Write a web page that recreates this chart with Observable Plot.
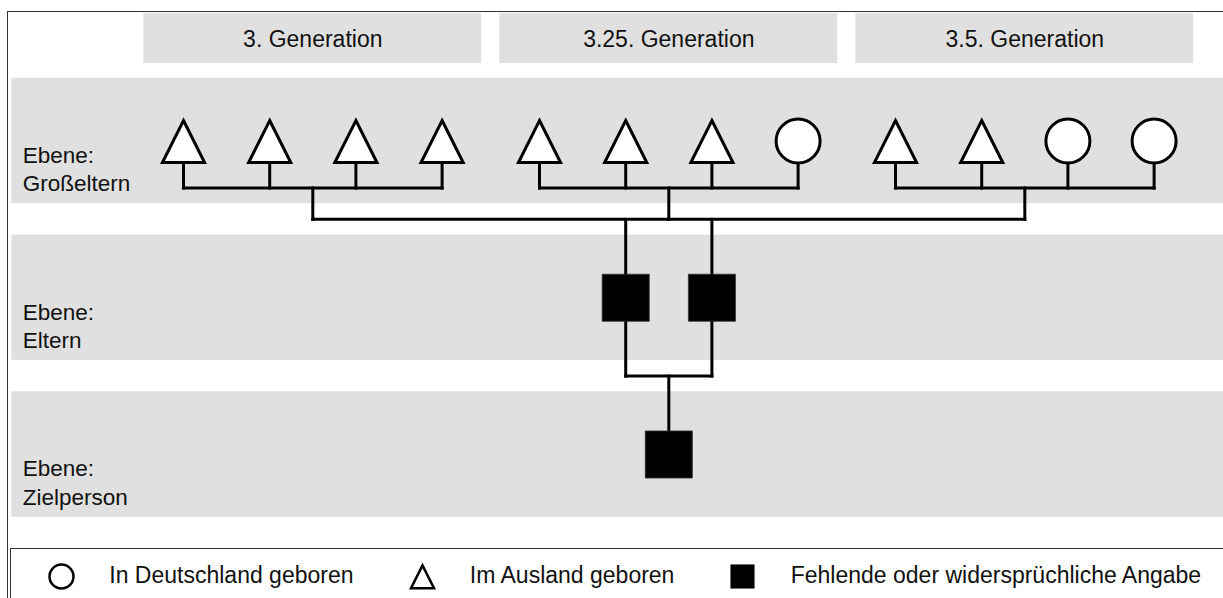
<!DOCTYPE html>
<html>
<head>
<meta charset="utf-8">
<script src="https://cdn.jsdelivr.net/npm/d3@7"></script>
<script src="https://cdn.jsdelivr.net/npm/@observablehq/plot@0.6"></script>
<style>
  html, body { margin: 0; padding: 0; background: #fff; }
  #fig { position: relative; width: 1223px; height: 598px; overflow: hidden; background: #fff;
         font-family: "Liberation Sans", Arial, Helvetica, sans-serif; color: #111; }
  #chart { position: absolute; left: 0; top: 0; }
  #frame { position: absolute; left: 6.5px; top: 10.5px; right: -20px; bottom: -20px;
           border-left: 1.5px solid #333; border-top: 1.5px solid #333; pointer-events: none; }
  #legend { position: absolute; left: 10px; top: 547.5px; width: 1400px; height: 54px;
            border-left: 1.5px solid #333; border-top: 1.5px solid #333; background: #fff;
            display: flex; align-items: center; padding-left: 37px; }
  .item { display: flex; align-items: center; margin-right: 55px; flex-shrink: 0; }
  .item:last-child { margin-right: 0; }
  .item svg { overflow: visible; display: block; flex-shrink: 0; }
  .item span { margin-left: 35.3px; font-size: 23px; white-space: nowrap; }
</style>
</head>
<body>
<div id="fig">
  <div id="chart"></div>
  <div id="frame"></div>
  <div id="legend"></div>
</div>
<script>
// ---------------- data ----------------
const generations = ["3. Generation", "3.25. Generation", "3.5. Generation"];
// birth country of the four grandparents in each generation status
const grandparentsBirth = [
  ["Ausland", "Ausland", "Ausland", "Ausland"],
  ["Ausland", "Ausland", "Ausland", "Deutschland"],
  ["Ausland", "Ausland", "Deutschland", "Deutschland"]
];
const parentsBirth = ["Fehlend", "Fehlend"];
const targetBirth = ["Fehlend"];
const levels = ["Großeltern", "Eltern", "Zielperson"];
const levelPrefix = "Ebene:";
const birthTypes = ["Deutschland", "Ausland", "Fehlend"];
const legendLabels = ["In Deutschland geboren", "Im Ausland geboren", "Fehlende oder widersprüchliche Angabe"];

// ---------------- layout (slot units / row units) ----------------
const W = 1223, H = 548;
const GAP = 0.13;                       // extra space between generation groups
const slot = (g, i) => g * (4 + GAP) + i;
const groupCenter = g => slot(g, 1.5);
const XMIN = -2.123, XMAX = 12.065;     // slot-unit extent of the drawing
const YMIN = -0.8963, YMAX = 2.5997;    // row-unit extent of the drawing
const BAND_LEFT = -1.992;
const HEADER_TOP = -0.813, HEADER_BOTTOM = -0.494;
const GRAY = "#e0e0e0";
const MID = 1;                          // parents sit below the middle group

// custom symbols (size = pi r^2)
const circleSym = { draw(ctx, size) { const r = Math.sqrt(size / Math.PI); ctx.moveTo(r, 0); ctx.arc(0, 0, r, 0, 2 * Math.PI); ctx.closePath(); } };
const triSym = { draw(ctx, size) { const r = Math.sqrt(size / Math.PI);
  ctx.moveTo(0, -0.93 * r); ctx.lineTo(0.958 * r, 0.977 * r); ctx.lineTo(-0.958 * r, 0.977 * r); ctx.closePath(); } };
const squareSym = { draw(ctx, size) { const r = Math.sqrt(size / Math.PI); const h = 1.07 * r;
  ctx.moveTo(-h, -h); ctx.lineTo(h, -h); ctx.lineTo(h, h); ctx.lineTo(-h, h); ctx.closePath(); } };
const symbolScale = { domain: birthTypes, range: [circleSym, triSym, squareSym] };

// nodes
const nodes = [];
grandparentsBirth.forEach((grp, g) => grp.forEach((t, i) => nodes.push({ x: slot(g, i), y: 0, type: t })));
parentsBirth.forEach((t, k) => nodes.push({ x: groupCenter(MID) + (k - 0.5), y: 1, type: t }));
targetBirth.forEach(t => nodes.push({ x: groupCenter(MID), y: 2, type: t }));

// connector lines derived from the structure
const links = [];
grandparentsBirth.forEach((grp, g) => {
  grp.forEach((t, i) => links.push({ x1: slot(g, i), y1: 0, x2: slot(g, i), y2: 0.3 }));
  links.push({ x1: slot(g, 0), y1: 0.3, x2: slot(g, grp.length - 1), y2: 0.3 });
  links.push({ x1: groupCenter(g), y1: 0.3, x2: groupCenter(g), y2: 0.5 });
});
links.push({ x1: groupCenter(0), y1: 0.5, x2: groupCenter(grandparentsBirth.length - 1), y2: 0.5 });
const parentNodes = nodes.filter(d => d.y === 1);
parentNodes.forEach(p => links.push({ x1: p.x, y1: 0.5, x2: p.x, y2: 1.5 }));
links.push({ x1: parentNodes[0].x, y1: 1.5, x2: parentNodes[parentNodes.length - 1].x, y2: 1.5 });
links.push({ x1: groupCenter(MID), y1: 1.5, x2: groupCenter(MID), y2: 2 });

const font = '"Liberation Sans", Arial, Helvetica, sans-serif';

const chart = Plot.plot({
  width: W, height: H, margin: 0,
  x: { domain: [XMIN, XMAX], range: [0, W], axis: null },
  y: { domain: [YMIN, YMAX], range: [0, H], axis: null },
  symbol: symbolScale,
  style: { fontFamily: font, background: "transparent", overflow: "visible" },
  marks: [
    // level bands
    Plot.rect(levels, { x1: BAND_LEFT, x2: XMAX, y1: (d, i) => i - 0.4, y2: (d, i) => i + 0.4, fill: GRAY }),
    // generation headers
    Plot.rect(generations, { x1: (d, g) => slot(g, 0) - 0.46, x2: (d, g) => slot(g, 3) + 0.46, y1: HEADER_TOP, y2: HEADER_BOTTOM, fill: GRAY }),
    Plot.text(generations, { x: (d, g) => groupCenter(g), y: (HEADER_TOP + HEADER_BOTTOM) / 2, text: d => d, fontSize: 23, dy: 1, fill: "#111" }),
    // level labels
    Plot.text(levels, { x: BAND_LEFT, y: (d, i) => i, text: d => `${levelPrefix}\n${d}`, textAnchor: "start", dx: 11, dy: 27, lineHeight: 1.27, fontSize: 22.5, fill: "#111" }),
    // connectors
    Plot.link(links, { x1: "x1", y1: "y1", x2: "x2", y2: "y2", stroke: "#000", strokeWidth: 3, strokeLinecap: "square" }),
    // nodes
    Plot.dot(nodes.filter(d => d.type !== "Fehlend"), { x: "x", y: "y", symbol: "type", r: 22, fill: "white", stroke: "#000", strokeWidth: 3, strokeLinejoin: "miter" }),
    Plot.dot(nodes.filter(d => d.type === "Fehlend"), { x: "x", y: "y", symbol: "type", r: 22, fill: "#000", stroke: "#333", strokeWidth: 0.8 })
  ]
});
document.getElementById("chart").appendChild(chart);

// legend
const legend = document.getElementById("legend");
birthTypes.forEach((t, k) => {
  const item = document.createElement("div");
  item.className = "item";
  const sw = Plot.plot({
    width: 26, height: 26, margin: 0,
    symbol: symbolScale,
    style: { background: "transparent", overflow: "visible" },
    marks: [
      Plot.dot([t], { frameAnchor: "middle", symbol: d => d, r: t === "Fehlend" ? 11 : 12,
        fill: t === "Fehlend" ? "#000" : "white", stroke: "#000", strokeWidth: t === "Fehlend" ? 0.5 : 2.5, strokeLinejoin: "miter" })
    ]
  });
  item.appendChild(sw);
  const span = document.createElement("span");
  span.textContent = legendLabels[k];
  item.appendChild(span);
  legend.appendChild(item);
});
</script>
</body>
</html>
